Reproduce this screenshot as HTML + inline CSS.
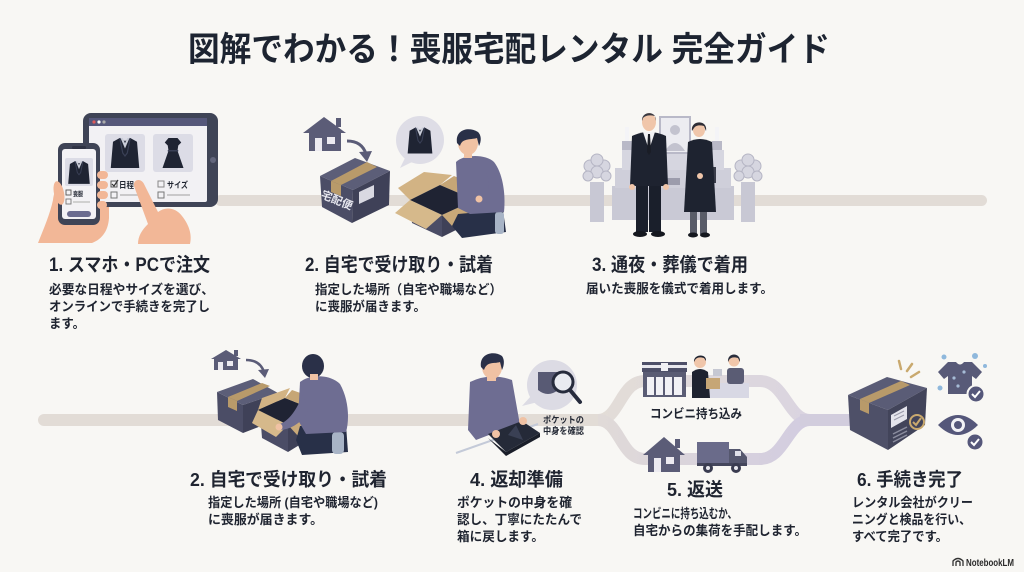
<!DOCTYPE html>
<html><head><meta charset="utf-8"><style>
html,body{margin:0;padding:0;background:#f8f7f4;}
svg{display:block;}
text{font-family:"Liberation Sans","Noto Sans CJK JP",sans-serif;font-weight:bold;fill:#1f2430;}
</style></head><body>
<svg width="1024" height="572" viewBox="0 0 1024 572" xmlns="http://www.w3.org/2000/svg">
<defs>
<symbol id="jk" viewBox="0 0 40 44">
<path d="M13 2 L20 6 L27 2 L36 7 L39 42 L1 42 L4 7 Z" fill="#1f2433"/>
<path d="M14 2 L20 16 L26 2 L23 2 L20 9 L17 2Z" fill="#c9ccd8"/>
<path d="M13 2 L17 22 L20 26 L23 22 L27 2" fill="none" stroke="#3a4056" stroke-width="1.6"/>
</symbol>
<symbol id="dr" viewBox="0 0 40 44">
<path d="M14 2 L26 2 L31 8 L27 12 L26 19 L14 19 L13 12 L9 8Z" fill="#1f2433"/>
<path d="M14 19 L26 19 L34 42 L6 42Z" fill="#1f2433"/>
<rect x="13" y="18" width="14" height="2" fill="#3a4056"/>
</symbol>
<linearGradient id="g1" x1="0" x2="1" y1="0" y2="0">
<stop offset="0" stop-color="#e3ddd7"/><stop offset="1" stop-color="#dad4e0"/>
</linearGradient>
<linearGradient id="g2" x1="0" x2="1" y1="0" y2="0">
<stop offset="0" stop-color="#e0dad8"/><stop offset="1" stop-color="#d2cce0"/>
</linearGradient>
</defs>
<rect width="1024" height="572" fill="#f8f7f4"/>

<!-- timelines -->
<rect x="215" y="195" width="772" height="11" rx="5.5" fill="#e2dcd6"/>
<rect x="38" y="414" width="575" height="12" rx="6" fill="#e2dcd6"/>
<path d="M598,420 C620,420 620,381 645,381 L760,381 C785,381 788,420 810,420" stroke="url(#g1)" stroke-width="12" fill="none"/>
<path d="M598,420 C620,420 620,459 645,459 L760,459 C785,459 788,420 810,420" stroke="url(#g2)" stroke-width="12" fill="none"/>
<path d="M800,420 L852,420" stroke="#d2cddd" stroke-width="12"/>

<!-- Title -->
<text x="188" y="61" font-size="34" textLength="642" lengthAdjust="spacingAndGlyphs" style="fill:#1d2431">図解でわかる！喪服宅配レンタル 完全ガイド</text>

<!-- ===== Step 1 illustration ===== -->
<path d="M38,243 C44,228 50,214 53,200 C55,186 60,178 66,184 L70,222 L97,222 L99,178 C101,170 108,170 109,178 L109,218 C108,233 100,240 92,243 Z" fill="#f2b797"/>
<rect x="83" y="113" width="135" height="94" rx="8" fill="#3f4456"/>
<rect x="89" y="118" width="118" height="84" rx="2" fill="#f2f1f4"/>
<rect x="89" y="118" width="118" height="8" fill="#55577a"/>
<circle cx="94" cy="122" r="1.6" fill="#e05a5a"/><circle cx="99" cy="122" r="1.6" fill="#fff"/><circle cx="104" cy="122" r="1.6" fill="#aaa"/>
<circle cx="213" cy="160" r="3" fill="#62667c"/>
<rect x="105" y="134" width="40" height="38" rx="3" fill="#dcdce6"/>
<use href="#jk" x="110" y="136" width="30" height="34"/>
<rect x="153" y="134" width="40" height="38" rx="3" fill="#dcdce6"/>
<use href="#dr" x="158" y="136" width="30" height="34"/>
<rect x="111" y="181" width="6" height="6" fill="none" stroke="#555" stroke-width="1"/>
<path d="M112,184 L114,186 L118,180" stroke="#333" stroke-width="1.2" fill="none"/>
<text x="119" y="188" font-size="8.5" textLength="15" lengthAdjust="spacingAndGlyphs">日程</text>
<rect x="158" y="181" width="6" height="6" fill="none" stroke="#888" stroke-width="1"/>
<text x="167" y="188" font-size="8.5" textLength="21" lengthAdjust="spacingAndGlyphs">サイズ</text>
<rect x="111" y="192" width="6" height="6" fill="none" stroke="#777" stroke-width="1"/>
<line x1="120" y1="195" x2="140" y2="195" stroke="#bbb" stroke-width="1.5"/>
<rect x="158" y="192" width="6" height="6" fill="none" stroke="#777" stroke-width="1"/>
<line x1="167" y1="195" x2="190" y2="195" stroke="#bbb" stroke-width="1.5"/>
<!-- phone -->
<rect x="58" y="143" width="42" height="82" rx="7" fill="#3f4456"/>
<rect x="62" y="149" width="34" height="70" rx="3" fill="#f3f2f5"/>
<rect x="72" y="146" width="14" height="3" rx="1.5" fill="#2f3344"/>
<rect x="65" y="158" width="28" height="28" rx="2" fill="#dcdce6"/>
<use href="#jk" x="67" y="160" width="24" height="25"/>
<rect x="66" y="190" width="5" height="5" fill="none" stroke="#555" stroke-width="0.9"/>
<text x="73" y="196" font-size="6.5" textLength="10" lengthAdjust="spacingAndGlyphs">喪服</text>
<rect x="66" y="199" width="5" height="5" fill="none" stroke="#777" stroke-width="0.9"/>
<line x1="73" y1="202" x2="90" y2="202" stroke="#bbb" stroke-width="1.2"/>
<rect x="67" y="211" width="24" height="6" rx="3" fill="#6b6c90"/>
<ellipse cx="59" cy="193" rx="5" ry="12" fill="#f2b797" transform="rotate(-12 59 193)"/>
<rect x="97" y="171" width="11" height="8" rx="4" fill="#f2b797"/>
<rect x="97" y="181" width="11" height="8" rx="4" fill="#f2b797"/>
<rect x="97" y="191" width="11" height="8" rx="4" fill="#f2b797"/>
<rect x="97" y="201" width="10" height="8" rx="4" fill="#f2b797"/>
<!-- right hand -->
<path d="M134,186 C133,179 141,178 144,184 L158,212 C166,206 176,208 182,216 C190,226 192,236 190,244 L138,244 C138,236 142,230 148,224 Z" fill="#f2b797"/>

<!-- ===== Step 2 top illustration ===== -->
<polygon points="303,133 324,117 346,133" fill="#5b5c77"/>
<rect x="336" y="118" width="5" height="9" fill="#5b5c77"/>
<rect x="309" y="131" width="32" height="20" fill="#5b5c77"/>
<rect x="315" y="138" width="7" height="13" fill="#eceaf0"/>
<rect x="327" y="137" width="8" height="7" fill="#eceaf0"/>
<path d="M347,141 Q362,141 366,154" stroke="#5b5c77" stroke-width="3" fill="none"/>
<polygon points="359,152 372,151 367,162" fill="#5b5c77"/>
<!-- closed box -->
<polygon points="355,158 390,171 353,190 320,176" fill="#5c5e78"/>
<polygon points="320,176 353,190 352,223 322,207" fill="#4b4d66"/>
<polygon points="353,190 390,171 389,205 352,223" fill="#3f4158"/>
<polygon points="331,181 341,185 377,167 367,162" fill="#b89a6a"/>
<polygon points="331,181 341,185 341,196 331,192" fill="#b89a6a"/>
<polygon points="359,192 374,185 374,197 359,204" fill="#d9d9e2"/>
<text x="337" y="204" font-size="11" text-anchor="middle" transform="rotate(22 337 200)" style="fill:#e6e6ee">宅配便</text>
<!-- bubble -->
<path d="M406,156 L400,168 L414,161Z" fill="#dedde6"/>
<circle cx="420" cy="140" r="24" fill="#dedde6"/>
<use href="#jk" x="407" y="126" width="26" height="29"/>
<!-- open box -->
<polygon points="410,200 440,185 452,175 424,172 398,188" fill="#d2b384"/>
<polygon points="440,185 475,200 487,190 454,176" fill="#c6a676"/>
<polygon points="410,200 440,185 475,200 442,215" fill="#1f2333"/>
<polygon points="410,200 442,215 442,237 412,223" fill="#4b4d66"/>
<polygon points="442,215 475,200 474,221 442,237" fill="#3f4158"/>
<polygon points="410,200 442,215 426,229 395,213" fill="#d6b98b"/>
<polygon points="442,215 475,200 484,211 453,227" fill="#c9a979"/>
<!-- person -->
<path d="M458,214 L503,210 L506,232 L462,238 L452,226Z" fill="#283048"/>
<rect x="495" y="212" width="9" height="22" rx="3" fill="#a8b4c6"/>
<path d="M456,162 C464,154 486,154 494,162 C502,172 506,192 504,212 L470,214 L458,208 Z" fill="#6e6d92"/>
<path d="M492,168 C500,182 499,196 488,203 L478,200 L480,194 L488,190 C490,184 488,176 486,172Z" fill="#6e6d92"/>
<circle cx="479" cy="199" r="3.5" fill="#f0c2a4"/>
<rect x="464" y="150" width="8" height="8" fill="#f0c2a4"/>
<ellipse cx="468" cy="143" rx="10" ry="12" fill="#f0c2a4"/>
<path d="M457,143 C455,130 468,126 478,132 C482,136 481,142 479,146 L477,138 C470,140 462,138 460,146Z" fill="#2a3048"/>

<!-- ===== Step 3 illustration ===== -->
<rect x="612" y="186" width="122" height="34" fill="#c9c9d5"/>
<rect x="615" y="168" width="116" height="20" fill="#cfcfda"/>
<rect x="622" y="150" width="102" height="20" fill="#d6d6e0"/>
<rect x="660" y="117" width="30" height="36" fill="#ececf1" stroke="#b9b9c8" stroke-width="2"/>
<circle cx="675" cy="130" r="5" fill="#c3c3cf"/>
<path d="M665,151 Q675,135 685,151Z" fill="#c3c3cf"/>
<rect x="625" y="127" width="4" height="14" fill="#f4f4f7"/><rect x="622" y="141" width="10" height="9" fill="#b9b9c7"/>
<rect x="715" y="127" width="4" height="14" fill="#f4f4f7"/><rect x="712" y="141" width="10" height="9" fill="#b9b9c7"/>
<rect x="662" y="178" width="18" height="7" fill="#9c9cac"/>
<rect x="713" y="167" width="3" height="16" fill="#3a3d4a"/>
<rect x="590" y="182" width="14" height="40" fill="#c8c8d4"/>
<rect x="741" y="182" width="14" height="40" fill="#c8c8d4"/>
<g fill="#d6d6e0" stroke="#b5b5c4" stroke-width="1">
<circle cx="590" cy="166" r="6"/><circle cx="604" cy="166" r="6"/><circle cx="597" cy="160" r="6"/><circle cx="597" cy="172" r="6"/><circle cx="588" cy="176" r="5"/><circle cx="606" cy="176" r="5"/>
<circle cx="741" cy="166" r="6"/><circle cx="755" cy="166" r="6"/><circle cx="748" cy="160" r="6"/><circle cx="748" cy="172" r="6"/><circle cx="739" cy="176" r="5"/><circle cx="757" cy="176" r="5"/>
</g>
<!-- man -->
<rect x="636" y="182" width="12" height="50" fill="#1a1f2b"/>
<rect x="649" y="182" width="12" height="50" fill="#1a1f2b"/>
<ellipse cx="640" cy="234" rx="7" ry="3" fill="#15181f"/>
<ellipse cx="658" cy="234" rx="7" ry="3" fill="#15181f"/>
<path d="M632,136 Q649,128 666,136 L668,186 L630,186 Z" fill="#1e2330"/>
<circle cx="632" cy="187" r="3" fill="#f0c6aa"/><circle cx="666" cy="187" r="3" fill="#f0c6aa"/>
<polygon points="643,132 655,132 649,150" fill="#f2f2f4"/>
<polygon points="648,134 650,134 651,152 649,155 647,152" fill="#1a1d26"/>
<ellipse cx="649" cy="122" rx="7" ry="9" fill="#f0c6aa"/>
<path d="M642,121 C641,111 657,110 656,121 L655,116 C650,115 646,115 643,118Z" fill="#3a3a42"/>
<!-- woman -->
<rect x="690" y="210" width="7" height="24" fill="#595c68"/>
<rect x="700" y="210" width="7" height="24" fill="#595c68"/>
<ellipse cx="693" cy="235" rx="5" ry="2.5" fill="#15181f"/><ellipse cx="705" cy="235" rx="5" ry="2.5" fill="#15181f"/>
<path d="M688,142 Q700,136 712,142 L716,212 L684,212 Z" fill="#1e2330"/>
<circle cx="700" cy="176" r="3" fill="#f0c6aa"/>
<ellipse cx="699" cy="130" rx="6" ry="7" fill="#f0c6aa"/>
<path d="M692,131 C690,120 708,119 706,131 L704,126 C700,125 696,125 694,128Z" fill="#2e2e36"/>

<!-- ===== Bottom step 2 illustration ===== -->
<polygon points="211,359 226,350 241,359" fill="#5b5c77"/>
<rect x="234" y="350" width="4" height="6" fill="#5b5c77"/>
<rect x="214" y="358" width="24" height="12" fill="#5b5c77"/>
<rect x="218" y="362" width="5" height="8" fill="#eceaf0"/>
<rect x="227" y="361" width="6" height="5" fill="#eceaf0"/>
<path d="M246,360 Q260,360 264,372" stroke="#5b5c77" stroke-width="2.5" fill="none"/>
<polygon points="258,370 269,369 265,378" fill="#5b5c77"/>
<polygon points="217,392 253,379 278,393 243,405" fill="#5c5e78"/>
<polygon points="217,392 243,405 243,433 218,420" fill="#4b4d66"/>
<polygon points="243,405 278,393 277,420 243,433" fill="#3f4158"/>
<polygon points="228,397 237,401 270,386 262,383" fill="#b89a6a"/>
<polygon points="228,397 237,401 237,411 228,407" fill="#b89a6a"/>
<polygon points="258,410 285,398 290,388 262,398" fill="#d2b384"/>
<polygon points="258,410 285,398 315,410 288,425" fill="#1f2333"/>
<polygon points="285,398 315,410 320,400 292,390" fill="#c6a676"/>
<polygon points="260,412 288,425 288,452 262,438" fill="#4b4d66"/>
<polygon points="288,425 315,410 314,436 288,452" fill="#3f4158"/>
<polygon points="258,410 288,425 276,437 252,423" fill="#d6b98b"/>
<polygon points="288,425 315,410 322,420 298,436" fill="#c9a979"/>
<path d="M300,426 L346,425 L348,452 L302,455 L296,440Z" fill="#283048"/>
<rect x="332" y="432" width="12" height="22" rx="4" fill="#a8b4c6"/>
<path d="M300,382 C310,374 330,374 340,384 C348,398 350,418 346,432 L306,434 L298,420 Z" fill="#6e6d92"/>
<path d="M303,395 C296,410 290,420 280,424 L278,430 C290,430 300,424 308,412Z" fill="#6e6d92"/>
<circle cx="279" cy="427" r="3.5" fill="#f0c2a4"/>
<ellipse cx="313" cy="366" rx="11" ry="12" fill="#2a3048"/>
<rect x="310" y="374" width="8" height="6" fill="#f0c2a4"/>

<!-- ===== Step 4 illustration ===== -->
<line x1="456" y1="453" x2="538" y2="424" stroke="#c4cad8" stroke-width="2"/>
<path d="M470,382 Q490,372 512,380 L520,425 L502,430 L476,440 L468,430 Z" fill="#6e6d92"/>
<rect x="487" y="374" width="9" height="7" fill="#f0c2a4"/>
<ellipse cx="492" cy="367" rx="10" ry="12" fill="#f0c2a4"/>
<path d="M481,367 C479,354 493,350 502,356 C505,360 504,366 502,370 L500,362 C494,364 487,361 484,370Z" fill="#2a3048"/>
<polygon points="488,434 522,421 540,433 506,452" fill="#252a38"/>
<polygon points="488,438 506,456 540,437 540,433 506,452" fill="#1a1e29"/>
<polygon points="508,435 516,425 523,440" fill="#3a4054"/>
<circle cx="496" cy="434" r="4" fill="#f0c2a4"/>
<circle cx="523" cy="421" r="4" fill="#f0c2a4"/>
<path d="M531,396 L522,406 L538,402Z" fill="#dcdbe4"/>
<circle cx="552" cy="385" r="25" fill="#dcdbe4"/>
<path d="M538,372 L558,372 L558,390 Q548,398 538,390Z" fill="#585a74"/>
<circle cx="563" cy="382" r="10" fill="#e9ebf1" stroke="#262b3c" stroke-width="3"/>
<line x1="570" y1="390" x2="580" y2="402" stroke="#262b3c" stroke-width="4" stroke-linecap="round"/>
<text x="543" y="423" font-size="9" textLength="41" lengthAdjust="spacingAndGlyphs">ポケットの</text>
<text x="543" y="434" font-size="9" textLength="41" lengthAdjust="spacingAndGlyphs">中身を確認</text>

<!-- ===== Step 5 illustration ===== -->
<rect x="642" y="362" width="45" height="10" fill="#4d4f68"/>
<rect x="642" y="365" width="45" height="3" fill="#e8e8ee"/>
<rect x="661" y="363" width="7" height="8" fill="#f0f0f4"/>
<rect x="643" y="372" width="43" height="25" fill="#5a5c74"/>
<rect x="647" y="377" width="7" height="18" fill="#f1f1f5"/>
<rect x="656" y="377" width="7" height="18" fill="#f1f1f5"/>
<rect x="665" y="377" width="7" height="18" fill="#f1f1f5"/>
<rect x="674" y="377" width="8" height="18" fill="#f1f1f5"/>
<rect x="707" y="383" width="42" height="15" fill="#d8d8e4"/>
<rect x="727" y="368" width="17" height="16" rx="3" fill="#5a5c74"/>
<circle cx="734" cy="361" r="5.5" fill="#f0c6aa"/>
<path d="M728,362 C727,352 741,352 740,362 L738,358 C734,357 731,357 729,360Z" fill="#2a2e3c"/>
<rect x="713" y="369" width="9" height="7" fill="#c6c8d2"/>
<path d="M692,372 Q700,366 708,372 L710,398 L692,398Z" fill="#1e2330"/>
<circle cx="700" cy="362" r="6" fill="#f0c6aa"/>
<path d="M694,362 C693,354 707,353 706,361 L704,358 C700,357 697,357 695,360Z" fill="#1e2330"/>
<rect x="706" y="378" width="14" height="11" fill="#c6a676"/>
<text x="650" y="418" font-size="12.5" textLength="92" lengthAdjust="spacingAndGlyphs">コンビニ持ち込み</text>
<polygon points="643,455 664,437 685,455" fill="#5b5c77"/>
<rect x="675" y="439" width="5" height="9" fill="#5b5c77"/>
<rect x="648" y="453" width="32" height="19" fill="#5b5c77"/>
<rect x="654" y="458" width="7" height="14" fill="#eceaf0"/>
<rect x="666" y="457" width="8" height="7" fill="#eceaf0"/>
<rect x="697" y="442" width="32" height="21" fill="#6a6b8a"/>
<path d="M729,449 L740,449 L747,457 L747,466 L729,466Z" fill="#55576e"/>
<rect x="735" y="451" width="6" height="5" fill="#dfe0e8"/>
<rect x="697" y="463" width="50" height="3" fill="#44465c"/>
<circle cx="708" cy="468" r="5" fill="#3a3c50"/><circle cx="708" cy="468" r="2" fill="#e8e8ee"/>
<circle cx="736" cy="468" r="5" fill="#3a3c50"/><circle cx="736" cy="468" r="2" fill="#e8e8ee"/>

<!-- ===== Step 6 illustration ===== -->
<polygon points="887,377 927,388 888,410 848,395" fill="#5a5c76"/>
<polygon points="848,395 888,410 888,450 850,430" fill="#4e5068"/>
<polygon points="888,410 927,388 925,425 888,450" fill="#42445a"/>
<polygon points="860,399 869,403 910,385 901,381" fill="#b89a6a"/>
<polygon points="860,399 869,403 869,414 860,410" fill="#b89a6a"/>
<polygon points="891,415 907,406 907,419 891,428" fill="#e4e4ec"/>
<line x1="894" y1="416" x2="904" y2="411" stroke="#9a9aaa" stroke-width="1"/>
<line x1="894" y1="420" x2="904" y2="415" stroke="#9a9aaa" stroke-width="1"/>
<circle cx="917" cy="422" r="7" fill="none" stroke="#c9a96e" stroke-width="2"/>
<path d="M913,422 L916,425 L921,418" stroke="#c9a96e" stroke-width="2" fill="none"/>
<line x1="893" y1="434" x2="907" y2="427" stroke="#8a8c9e" stroke-width="1.5"/>
<line x1="893" y1="438" x2="907" y2="431" stroke="#8a8c9e" stroke-width="1.5"/>
<line x1="893" y1="442" x2="907" y2="435" stroke="#8a8c9e" stroke-width="1.5"/>
<g stroke="#c9a96e" stroke-width="2.5" stroke-linecap="round">
<line x1="901" y1="369" x2="899" y2="361"/><line x1="907" y1="371" x2="912" y2="364"/><line x1="911" y1="377" x2="919" y2="372"/>
</g>
<path d="M948,362 L956,362 Q960,367 964,362 L972,362 L982,372 L976,379 L972,376 L972,394 L948,394 L948,376 L944,379 L938,372Z" fill="#585a78"/>
<circle cx="954" cy="378" r="1.6" fill="#a6bcd6"/><circle cx="964" cy="372" r="1.6" fill="#a6bcd6"/><circle cx="958" cy="386" r="1.6" fill="#a6bcd6"/>
<g fill="#8fb8dc">
<circle cx="944" cy="357" r="2.5"/><circle cx="975" cy="356" r="3"/><circle cx="985" cy="366" r="2"/><circle cx="940" cy="388" r="2.5"/>
</g>
<circle cx="976" cy="394" r="8.5" fill="#55577a" stroke="#f8f7f4" stroke-width="2"/>
<path d="M972,394 L975,397 L980,391" stroke="#fff" stroke-width="2" fill="none"/>
<path d="M938,425 Q958,405 978,425 Q958,445 938,425Z" fill="#55577a"/>
<circle cx="958" cy="425" r="7" fill="#f2f2f6"/>
<circle cx="958" cy="425" r="4" fill="#55577a"/>
<circle cx="975" cy="442" r="8.5" fill="#55577a" stroke="#f8f7f4" stroke-width="2"/>
<path d="M971,442 L974,445 L979,439" stroke="#fff" stroke-width="2" fill="none"/>

<!-- ===== Texts ===== -->
<text x="49" y="271" font-size="19" textLength="161" lengthAdjust="spacingAndGlyphs">1. スマホ・PCで注文</text>
<text x="49" y="294" font-size="13" textLength="165" lengthAdjust="spacingAndGlyphs">必要な日程やサイズを選び、</text>
<text x="49" y="311" font-size="13" textLength="161" lengthAdjust="spacingAndGlyphs">オンラインで手続きを完了し</text>
<text x="49" y="328" font-size="13" textLength="36" lengthAdjust="spacingAndGlyphs">ます。</text>

<text x="305" y="271" font-size="19" textLength="188" lengthAdjust="spacingAndGlyphs">2. 自宅で受け取り・試着</text>
<text x="315" y="294" font-size="13" textLength="187" lengthAdjust="spacingAndGlyphs">指定した場所（自宅や職場など）</text>
<text x="315" y="311" font-size="13" textLength="111" lengthAdjust="spacingAndGlyphs">に喪服が届きます。</text>

<text x="592" y="271" font-size="19" textLength="156" lengthAdjust="spacingAndGlyphs">3. 通夜・葬儀で着用</text>
<text x="586" y="293" font-size="13" textLength="187" lengthAdjust="spacingAndGlyphs">届いた喪服を儀式で着用します。</text>

<text x="190" y="486" font-size="18.5" textLength="197" lengthAdjust="spacingAndGlyphs">2. 自宅で受け取り・試着</text>
<text x="208" y="507" font-size="13" textLength="170" lengthAdjust="spacingAndGlyphs">指定した場所 (自宅や職場など)</text>
<text x="208" y="524" font-size="13" textLength="115" lengthAdjust="spacingAndGlyphs">に喪服が届きます。</text>

<text x="470" y="486" font-size="18.5" textLength="93" lengthAdjust="spacingAndGlyphs">4. 返却準備</text>
<text x="457" y="507" font-size="13" textLength="115" lengthAdjust="spacingAndGlyphs">ポケットの中身を確</text>
<text x="457" y="524" font-size="13" textLength="125" lengthAdjust="spacingAndGlyphs">認し、丁寧にたたんで</text>
<text x="457" y="541" font-size="13" textLength="87" lengthAdjust="spacingAndGlyphs">箱に戻します。</text>

<text x="667" y="496" font-size="18.5" textLength="56" lengthAdjust="spacingAndGlyphs">5. 返送</text>
<text x="633" y="518" font-size="13" textLength="104" lengthAdjust="spacingAndGlyphs">コンビニに持ち込むか、</text>
<text x="633" y="535" font-size="13" textLength="174" lengthAdjust="spacingAndGlyphs">自宅からの集荷を手配します。</text>

<text x="857" y="486" font-size="18.5" textLength="106" lengthAdjust="spacingAndGlyphs">6. 手続き完了</text>
<text x="852" y="507" font-size="13" textLength="121" lengthAdjust="spacingAndGlyphs">レンタル会社がクリー</text>
<text x="852" y="524" font-size="13" textLength="119" lengthAdjust="spacingAndGlyphs">ニングと検品を行い、</text>
<text x="852" y="541" font-size="13" textLength="96" lengthAdjust="spacingAndGlyphs">すべて完了です。</text>

<!-- NotebookLM -->
<path d="M953,566 L953,561 Q958,556 963,561 L963,566 M956,566 L956,562 Q958,560 960,562 L960,566" stroke="#333" stroke-width="1.3" fill="none"/>
<text x="966" y="566" font-size="10" textLength="48" lengthAdjust="spacingAndGlyphs" style="fill:#2a2a2a">NotebookLM</text>
</svg>
</body></html>
